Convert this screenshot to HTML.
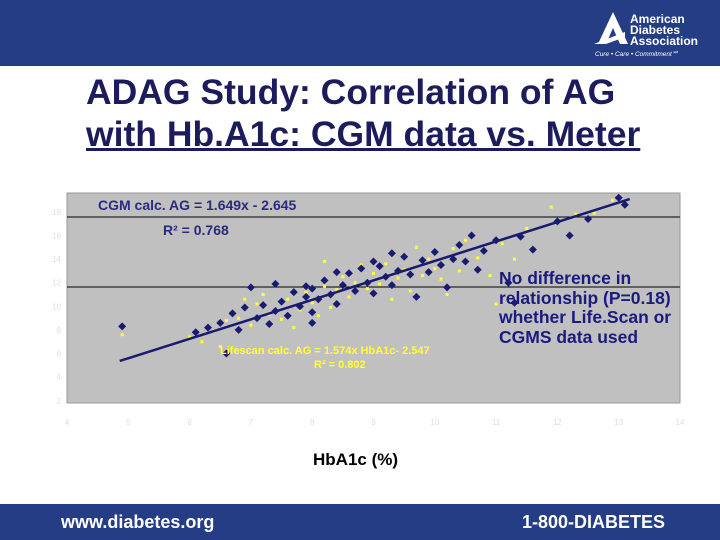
<!DOCTYPE html>
<html><head><meta charset="utf-8"><style>
body{margin:0;width:720px;height:540px;overflow:hidden;background:#fff;font-family:"Liberation Sans",Arial,sans-serif;position:relative}
.band{position:absolute;left:0;width:720px;background:#253d85}
</style></head><body>
<div class="band" style="top:0;height:66px"></div>
<svg style="position:absolute;left:592px;top:8px" width="125" height="50">
<polygon points="6,36 21,4 36,36 28,36 21,20 14,36" fill="#fff"/>
<polygon points="2,36 33,24 33,29 14,36" fill="#fff"/>
<text x="38" y="15" font-size="12" font-weight="bold" fill="#fff">American</text>
<text x="38" y="26" font-size="12" font-weight="bold" fill="#fff">Diabetes</text>
<text x="38" y="37" font-size="12" font-weight="bold" fill="#fff">Association</text>
<text x="3" y="48" font-size="6.5" fill="#fff" font-style="italic">Cure • Care • Commitment℠</text>
</svg>
<div style="position:absolute;left:86px;top:71px;font-size:35.5px;font-weight:bold;color:#1c1c5c;line-height:42px;white-space:nowrap">ADAG Study: Correlation of AG<br><span style="text-decoration:underline">with Hb.A1c: CGM data vs. Meter</span></div>
<svg id="chart" style="position:absolute;left:0;top:180px" width="720" height="300"></svg>
<div style="position:absolute;left:313px;top:450px;font-size:17px;font-weight:bold;color:#000">HbA1c (%)</div>
<div style="position:absolute;left:499px;top:269px;font-size:17.5px;font-weight:bold;color:#1a1a80;line-height:19.5px;white-space:nowrap">No difference in<br>relationship (P=0.18)<br>whether Life.Scan or<br>CGMS data used</div>
<div class="band" style="top:504px;height:36px"></div>
<div style="position:absolute;left:61px;top:512px;color:#fff;font-weight:bold;font-size:18px">www.diabetes.org</div>
<div style="position:absolute;left:522px;top:512px;color:#fff;font-weight:bold;font-size:18px">1-800-DIABETES</div>
<script>
const xTicks=[4,5,6,7,8,9,10,11,12,13,14];
const yTicks=[2,4,6,8,10,12,14,16,18];
const cgmPoints=[[4.9,8.3],[6.6,6.0],[7.0,11.6],[6.1,7.8],[6.3,8.2],[6.5,8.6],[6.7,9.4],[6.8,8.0],[6.9,9.9],[7.1,9.0],[7.2,10.1],[7.3,8.5],[7.4,9.6],[7.5,10.4],[7.6,9.2],[7.7,11.2],[7.8,10.0],[7.9,10.8],[8.0,11.5],[8.0,9.5],[8.1,10.6],[8.2,12.2],[8.3,11.0],[8.4,10.2],[8.5,11.8],[8.6,12.8],[8.7,11.3],[8.8,13.2],[8.9,12.0],[9.0,11.1],[9.1,13.4],[9.2,12.5],[9.3,11.8],[9.4,13.0],[9.5,14.2],[9.6,12.7],[9.7,10.8],[9.8,13.9],[9.9,12.9],[10.0,14.6],[10.1,13.5],[10.2,11.6],[10.3,14.0],[10.4,15.2],[10.5,13.8],[10.6,16.0],[10.8,14.7],[11.0,15.6],[11.2,12.0],[11.4,15.9],[11.6,14.8],[12.0,17.2],[12.2,16.0],[12.5,17.4],[13.0,19.2],[13.1,18.6],[11.3,10.3],[8.0,8.6],[7.4,11.9],[9.0,13.8],[8.4,12.9],[9.3,14.5],[10.7,13.1],[7.9,11.7]];
const meterPoints=[[4.9,7.6],[6.0,7.4],[6.2,7.0],[6.4,7.9],[6.6,8.8],[6.8,9.0],[7.0,8.4],[7.1,10.2],[7.3,9.3],[7.5,8.9],[7.6,10.6],[7.8,9.7],[7.9,11.2],[8.0,10.3],[8.2,11.7],[8.3,9.9],[8.4,11.4],[8.5,12.5],[8.6,10.8],[8.7,12.0],[8.9,11.5],[9.0,12.8],[9.1,11.9],[9.2,13.6],[9.4,12.4],[9.5,13.1],[9.6,11.3],[9.8,12.6],[9.9,14.0],[10.0,13.2],[10.1,12.3],[10.3,14.9],[10.4,13.0],[10.5,15.6],[10.7,14.1],[10.9,12.6],[11.1,15.3],[11.3,14.0],[11.5,16.6],[11.9,18.4],[12.3,17.8],[12.6,17.9],[12.9,19.0],[8.2,13.8],[7.2,11.0],[6.9,10.6],[9.7,15.0],[8.8,13.5],[10.2,11.0],[11.0,10.2],[7.7,8.2],[9.3,10.6],[6.5,6.6],[8.1,9.2]];
const fitSlope=1.649, fitIntercept=-2.645, fitRange=[4.86,13.18];
const NS='http://www.w3.org/2000/svg';
const svg=document.getElementById('chart');
const X0=67,X1=680,Y0=223,Y1=13;
const xmin=4,xmax=14,ymin=1.81,ymax=19.6;
const sx=v=>X0+(v-xmin)/(xmax-xmin)*(X1-X0);
const sy=v=>Y0-(v-ymin)/(ymax-ymin)*(Y0-Y1);
function mk(t,a){const e=document.createElementNS(NS,t);for(const k in a)e.setAttribute(k,a[k]);svg.appendChild(e);return e;}
const bg=mk('rect',{x:X0,y:Y1,width:X1-X0,height:Y0-Y1,fill:'#c0c0c0',stroke:'#999'});


[37,107].forEach(py=>{const g=mk('line',{x1:X0,x2:X1,y1:py,y2:py,stroke:'#000','stroke-width':1});

});
xTicks.forEach(v=>{const t=mk('text',{x:sx(v),y:Y0+22,'font-size':8,fill:'#ddd','text-anchor':'middle'});t.textContent=v;

});
yTicks.forEach(v=>{const t=mk('text',{x:X0-6,y:sy(v)+3,'font-size':8,fill:'#ddd','text-anchor':'end'});t.textContent=v;

});
meterPoints.forEach(p=>{const r=mk('rect',{x:sx(p[0])-1.5,y:sy(p[1])-1.5,width:3,height:3,fill:'#ffff33'});

});
cgmPoints.forEach(p=>{const cx=sx(p[0]),cy=sy(p[1]);const d=mk('polygon',{points:`${cx},${cy-4} ${cx+4},${cy} ${cx},${cy+4} ${cx-4},${cy}`,fill:'#1a1a6e'});

});
const fl=mk('line',{x1:sx(fitRange[0]),y1:sy(fitSlope*fitRange[0]+fitIntercept),x2:sx(fitRange[1]),y2:sy(fitSlope*fitRange[1]+fitIntercept),stroke:'#1a1a6e','stroke-width':2.5});


const t1=mk('text',{x:98,y:30,'font-size':14,'font-weight':'bold',fill:'#2a2a80'});t1.textContent='CGM calc. AG = 1.649x - 2.645';


const t2=mk('text',{x:163,y:55,'font-size':14,'font-weight':'bold',fill:'#2a2a80'});t2.textContent='R² = 0.768';


const t3=mk('text',{x:220,y:174,'font-size':11,'font-weight':'bold',fill:'#ffff33'});t3.textContent='Lifescan calc. AG = 1.574x HbA1c- 2.547';


const t4=mk('text',{x:314,y:188,'font-size':11,'font-weight':'bold',fill:'#ffff33'});t4.textContent='R² = 0.802';


</script>
</body></html>
